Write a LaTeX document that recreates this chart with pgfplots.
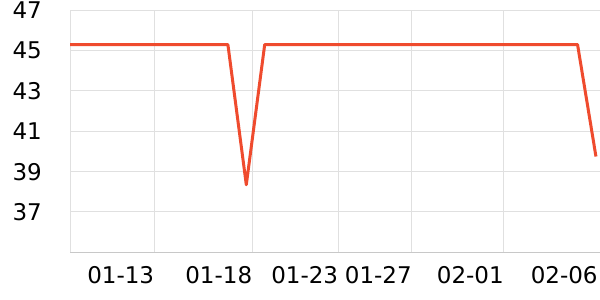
\documentclass[border=0pt]{standalone}
\usepackage{fontspec}
\setmainfont{DejaVu Sans}
\usepackage{pgfplots}
\pgfplotsset{compat=1.18}
\definecolor{linec}{HTML}{EF4B2E}
\definecolor{gridc}{HTML}{E0E0E0}
\definecolor{axc}{HTML}{C8C8C8}
\begin{document}
\begin{tikzpicture}[x=1pt,y=1pt]
\useasboundingbox (0,0) rectangle (600,300);
\begin{axis}[at={(70pt,47.7pt)}, anchor=south west, scale only axis,
  width=530pt, height=242pt,
  xmin=-4.58, xmax=24.22, ymin=35, ymax=47,
  xtick={0,5.33,10,14,19},
  xticklabels={01-13,01-18,01-23,01-27,02-01},
  extra x ticks={24.1},
  extra x tick labels={02-06},
  extra x tick style={grid=none},
  ytick={37,39,41,43,45,47},
  grid=major, major grid style={gridc, line width=1pt},
  axis x line=bottom, axis y line=left,
  x axis line style={axc, -, line width=1pt},
  y axis line style={gridc, -, line width=1pt},
  major tick length=0pt,
  tick label style={font=\fontsize{23}{27}\selectfont, black},
  /pgf/number format/assume math mode=true,
  xticklabel style={anchor=north east, inner sep=0pt, yshift=-13.7pt},
  yticklabel style={anchor=east, inner sep=0pt, xshift=-28pt},
]
\addplot[linec, line width=3pt, line join=round, mark=none] table {
x y
-5 45.3
-4 45.3
-3 45.3
-2 45.3
-1 45.3
0 45.3
1 45.3
2 45.3
3 45.3
4 45.3
5 38.35
6 45.3
7 45.3
8 45.3
9 45.3
10 45.3
11 45.3
12 45.3
13 45.3
14 45.3
15 45.3
16 45.3
17 45.3
18 45.3
19 45.3
20 45.3
21 45.3
22 45.3
23 45.3
24 39.75
};
\end{axis}
\end{tikzpicture}
\end{document}
